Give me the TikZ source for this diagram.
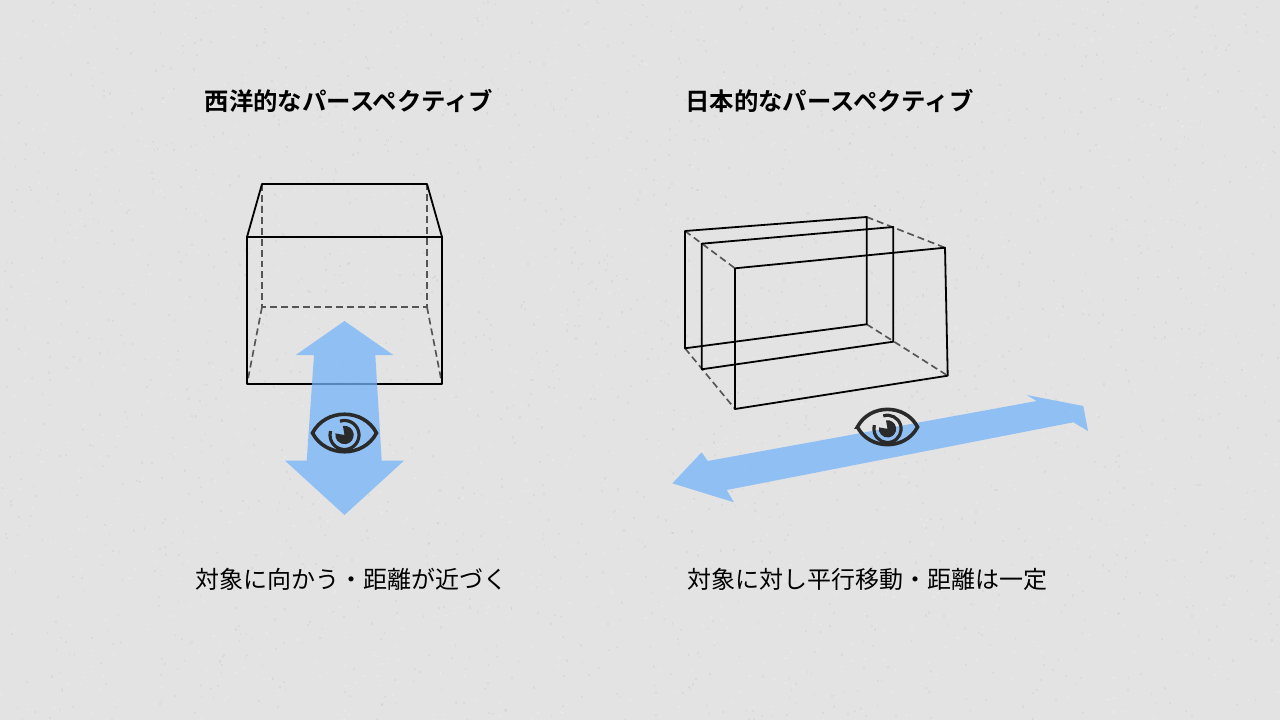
\documentclass[tikz,border=0pt]{standalone}
\usepackage{fontspec}
\setmainfont{Noto Sans CJK JP}
\newfontfamily\jpbold{Noto Sans CJK JP Bold}
\definecolor{bgc}{HTML}{E3E3E3}
\definecolor{arrowc}{RGB}{117,181,249}
\definecolor{eyec}{HTML}{2A2A2A}
\definecolor{dashc}{HTML}{555555}
\tikzset{
  solidline/.style={draw=black,line width=1.35pt,line join=round},
  dashline/.style={draw=dashc,line width=1.25pt,dash pattern=on 5.2pt off 3pt},
  bluearrow/.style={fill=arrowc,fill opacity=.75,draw=none},
  titletext/.style={font=\jpbold\fontsize{18.3pt}{20pt}\selectfont,text=black,inner sep=0pt,anchor=center},
  captext/.style={font=\fontsize{18pt}{20pt}\selectfont,text=black,inner sep=0pt,anchor=center},
  pics/eyeicon/.style={code={
    \draw[eyec,line width=2.7pt,line join=miter]
      (-32,0) .. controls (-19,-25) and (19,-25) .. (32,0)
      .. controls (19,25) and (-19,25) .. cycle;
    \draw[eyec,line width=2.4pt] (-4.5,-11.8) arc[start angle=-108,end angle=196,radius=14.5];
    \fill[eyec] (0,2) -- (-1.6,-7.06) arc[start angle=-100,end angle=190,radius=9.2] -- cycle;
  }}
}
\begin{document}
\begin{tikzpicture}[x=.75pt,y=-.75pt]
\useasboundingbox (0,0) rectangle (1280,720);
\fill[bgc] (0,0) rectangle (1280,720);
% fine paper grain
\pgfmathsetseed{7}
\foreach \i in {1,...,4000}{
  \pgfmathsetmacro{\gx}{rnd*1280}
  \pgfmathsetmacro{\gy}{rnd*720}
  \pgfmathsetmacro{\gt}{rnd}
  \ifdim\gt pt<0.5pt
    \fill[white,opacity=.16] (\gx,\gy) rectangle +(2.2,1.6);
  \else
    \fill[black,opacity=.035] (\gx,\gy) rectangle +(1.6,2.2);
  \fi
}

% left box
\draw[dashline] (262,184) -- (262,307) -- (427,307) -- (427,184);
\draw[dashline] (262,307) -- (247,384);
\draw[dashline] (427,307) -- (442,384);
\draw[solidline] (247,237) -- (262,184) -- (427,184) -- (442,237);
\draw[solidline] (247,237) rectangle (442,384);

% left arrow
\fill[bluearrow] (344.5,321) -- (393.3,355) -- (375.3,355) -- (381.7,460.7) -- (404,460.7)
  -- (344.5,515) -- (285,460.7) -- (306.7,460.7) -- (314,355) -- (295.7,355) -- cycle;
\pic at (344.5,433) {eyeicon};

% right boxes
\draw[dashline] (685,231) -- (735,268.3);
\draw[dashline] (866.7,217) -- (945,247.7);
\draw[dashline] (866.7,324.3) -- (947.7,375.7);
\draw[dashline] (685,348.3) -- (735,409);
\draw[solidline] (685,231) -- (866.7,217) -- (866.7,324.3) -- (685,348.3) -- cycle;
\draw[solidline] (701.7,243.7) -- (893.3,227) -- (893.3,341.7) -- (701.7,369.3) -- cycle;
\draw[solidline] (735,268.3) -- (945,247.7) -- (947.7,375.7) -- (735,409) -- cycle;

% right arrow
\fill[bluearrow] (1026.7,395) -- (1083.3,406) -- (1088,431) -- (1073.3,422.3) -- (726.7,490)
  -- (734,502.3) -- (672.3,483.3) -- (701.7,452.3) -- (707.7,461) -- (1036.7,401) -- cycle;
\pic[scale=.94] at (887.5,427) {eyeicon};

% texts
\node[titletext] (titleL) at (349,101) {西洋的なパースペクティブ};
\node[titletext] (titleR) at (829.5,101) {日本的なパースペクティブ};
\node[captext] (capL) at (351,579) {対象に向かう・距離が近づく};
\node[captext] (capR) at (867,579) {対象に対し平行移動・距離は一定};
\end{tikzpicture}
\end{document}
